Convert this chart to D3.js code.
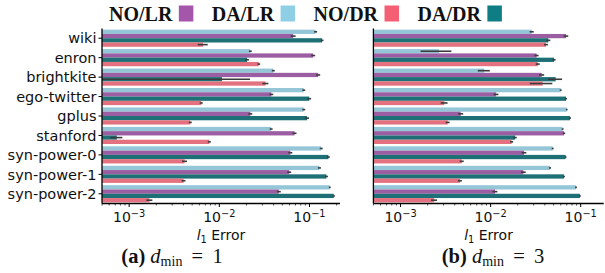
<!DOCTYPE html>
<html>
<head>
<meta charset="utf-8">
<style>
  body { margin: 0; background: #fff; }
  svg { display: block; }
  .ylab { font-family: 'DejaVu Sans', sans-serif; font-size: 14.5px; fill: #111; }
  .xtick { font-family: 'DejaVu Sans', sans-serif; font-size: 14px; fill: #111; }
  .xlabel { font-family: 'DejaVu Sans', sans-serif; font-size: 14px; fill: #111; }
  .legend text { font-family: 'Liberation Serif', 'Times New Roman', serif; font-size: 20px; font-weight: bold; fill: #111; }
  .caption { font-family: 'Liberation Serif', 'Times New Roman', serif; font-size: 20.5px; fill: #111; }
</style>
</head>
<body>
<svg width="605" height="273"></svg>
<script src="https://cdn.jsdelivr.net/npm/d3@7"></script>
<script>
// datasets, top to bottom
const datasets = ["wiki", "enron", "brightkite", "ego-twitter", "gplus", "stanford", "syn-power-0", "syn-power-1", "syn-power-2"];
// order of bars inside a group, top to bottom
const barOrder = ["DA/LR", "NO/LR", "DA/DR", "NO/DR"];
const legendOrder = ["NO/LR", "DA/LR", "NO/DR", "DA/DR"];

// (a) d_min = 1  -- mean l1 error
const a_DALR = [0.117, 0.0221, 0.0397, 0.0864, 0.0864, 0.0376, 0.135, 0.129, 0.168];
const a_NOLR = [0.066, 0.110, 0.125, 0.0378, 0.0221, 0.0683, 0.0614, 0.0596, 0.0457];
const a_DADR = [0.138, 0.0203, 0.0107, 0.0993, 0.0939, 0.00073, 0.162, 0.154, 0.186];
const a_NODR = [0.0066, 0.0274, 0.0325, 0.0063, 0.00477, 0.00775, 0.00412, 0.00402, 0.00168];
// (a) confidence half-widths
const a_DALR_err = [0.0045, 0.0008, 0.0015, 0.0033, 0.0033, 0.0014, 0.005, 0.005, 0.004];
const a_NOLR_err = [0.0042, 0.0056, 0.0064, 0.0019, 0.0011, 0.0035, 0.0031, 0.003, 0.0023];
const a_DADR_err = [0.005, 0.001, 0.0112, 0.005, 0.005, 0.00011, 0.006, 0.006, 0.005];
const a_NODR_err = [0.00084, 0.001, 0.0025, 0.00024, 0.00018, 0.0003, 0.00026, 0.0002, 0.00013];

// (b) d_min = 3
const b_DALR = [0.0286, 0.00267, 0.0085, 0.060, 0.070, 0.063, 0.0489, 0.0456, 0.0887];
const b_NOLR = [0.0687, 0.0324, 0.0369, 0.0115, 0.00466, 0.0653, 0.0235, 0.0231, 0.0112];
const b_DADR = [0.0437, 0.0506, 0.0527, 0.0687, 0.076, 0.0187, 0.068, 0.0653, 0.098];
const b_NODR = [0.0412, 0.0334, 0.0378, 0.00306, 0.00334, 0.0171, 0.00478, 0.00457, 0.00236];
const b_DALR_err = [0.0015, 0.001, 0.0013, 0.0015, 0.0015, 0.0015, 0.0012, 0.0012, 0.002];
const b_NOLR_err = [0.004, 0.0017, 0.0024, 0.0007, 0.0003, 0.002, 0.0014, 0.0014, 0.0007];
const b_DADR_err = [0.0023, 0.002, 0.0094, 0.0017, 0.002, 0.0008, 0.0015, 0.0015, 0.002];
const b_NODR_err = [0.0021, 0.0017, 0.0106, 0.00027, 0.00017, 0.0007, 0.00025, 0.00023, 0.00018];

const xDomainA = [5.0e-4, 0.218];
const xDomainB = [5.0e-4, 0.18];

const barColor = { "DA/LR": "#94c6d7", "NO/LR": "#9c5ea2", "DA/DR": "#1d7075", "NO/DR": "#e4717f" };
const legendColor = { "NO/LR": "#a457aa", "DA/LR": "#8ecfe5", "NO/DR": "#f45f73", "DA/DR": "#0e7d84" };

const svg = d3.select("svg");

function buildRows(vals, errs) {
  return datasets.map((ds, i) => ({
    ds,
    bars: barOrder.map((m, j) => ({ m, v: vals[j][i], e: errs[j][i] }))
  }));
}

const panels = [
  { rows: buildRows([a_DALR, a_NOLR, a_DADR, a_NODR], [a_DALR_err, a_NOLR_err, a_DADR_err, a_NODR_err]),
    domain: xDomainA, left: 102, right: 340, yLabels: true, capX: 172, capLetter: "(a)", capVal: "1" },
  { rows: buildRows([b_DALR, b_NOLR, b_DADR, b_NODR], [b_DALR_err, b_NOLR_err, b_DADR_err, b_NODR_err]),
    domain: xDomainB, left: 373.4, right: 603.7, yLabels: false, capX: 493, capLetter: "(b)", capVal: "3" }
];

const plotTop = 28.5, plotBottom = 203.5;

const y = d3.scaleBand().domain(datasets).range([plotTop, plotBottom]).paddingInner(0.12).paddingOuter(0.06);
const yIn = d3.scaleBand().domain(barOrder).range([0, y.bandwidth()]);

panels.forEach(p => {
  const x = d3.scaleLog().domain(p.domain).range([p.left, p.right]);
  const g = svg.append("g");

  const grp = g.selectAll("g.row").data(p.rows).join("g")
    .attr("class", "row")
    .attr("transform", d => `translate(0,${y(d.ds)})`);

  grp.selectAll("rect").data(d => d.bars).join("rect")
    .attr("x", x(p.domain[0]))
    .attr("y", d => yIn(d.m))
    .attr("height", yIn.bandwidth())
    .attr("width", d => x(d.v) - x(p.domain[0]))
    .attr("fill", d => barColor[d.m]);

  grp.selectAll("line.err").data(d => d.bars).join("line")
    .attr("class", "err")
    .attr("x1", d => x(Math.max(d.v - d.e, p.domain[0])))
    .attr("x2", d => x(d.v + d.e))
    .attr("y1", d => yIn(d.m) + yIn.bandwidth() / 2)
    .attr("y2", d => yIn(d.m) + yIn.bandwidth() / 2)
    .attr("stroke", "#3c3c3c")
    .attr("stroke-width", 1.6);

  // spines
  g.append("line").attr("x1", p.left).attr("x2", p.left).attr("y1", plotTop).attr("y2", plotBottom)
    .attr("stroke", "#000").attr("stroke-width", 1.3);
  g.append("line").attr("x1", p.left).attr("x2", p.right).attr("y1", plotBottom).attr("y2", plotBottom)
    .attr("stroke", "#000").attr("stroke-width", 1.3);

  // y ticks + labels
  if (p.yLabels) {
    datasets.forEach(ds => {
      const cy = y(ds) + y.bandwidth() / 2;
      g.append("line").attr("x1", p.left - 3.5).attr("x2", p.left).attr("y1", cy).attr("y2", cy)
        .attr("stroke", "#000").attr("stroke-width", 1);
      g.append("text").attr("class", "ylab").attr("x", p.left - 5.5).attr("y", cy)
        .attr("dy", "0.36em").attr("text-anchor", "end").text(ds);
    });
  }

  // x ticks (log, major + minor)
  x.ticks().forEach(t => {
    const lg = Math.log10(t);
    const major = Math.abs(lg - Math.round(lg)) < 1e-9;
    g.append("line").attr("x1", x(t)).attr("x2", x(t)).attr("y1", plotBottom).attr("y2", plotBottom + (major ? 3.5 : 2))
      .attr("stroke", "#000").attr("stroke-width", major ? 1 : 0.7);
    if (major) {
      const tx = g.append("text").attr("class", "xtick").attr("x", x(t)).attr("y", 222).attr("text-anchor", "middle");
      tx.append("tspan").text("10");
      tx.append("tspan").attr("font-size", "9.8px").attr("dy", -5.5).text("\u2212" + Math.abs(Math.round(lg)));
    }
  });

  // x label
  const xl = g.append("text").attr("class", "xlabel").attr("x", (p.left + p.right) / 2).attr("y", 240).attr("text-anchor", "middle");
  xl.append("tspan").attr("font-style", "italic").text("l");
  xl.append("tspan").attr("font-size", "9.8px").attr("dy", 2.5).text("1");
  xl.append("tspan").attr("dy", -2.5).text(" Error");

  // caption
  const cap = svg.append("text").attr("class", "caption").attr("x", p.capX).attr("y", 263).attr("text-anchor", "middle");
  cap.append("tspan").attr("font-weight", "bold").text(p.capLetter + " ");
  cap.append("tspan").attr("font-style", "italic").text("d");
  cap.append("tspan").attr("font-size", "14px").attr("dy", 3).text("min");
  cap.append("tspan").attr("dy", -3).text("\u2009 = \u2009" + p.capVal);
});

// legend
const leg = svg.append("g").attr("class", "legend");
let lx = 109;
legendOrder.forEach(m => {
  const t = leg.append("text").attr("x", lx).attr("y", 21).text(m);
  const w = t.node().getComputedTextLength();
  leg.append("rect").attr("x", lx + w + 6.5).attr("y", 5.5).attr("width", 14.5).attr("height", 16)
    .attr("fill", legendColor[m]);
  lx += w + 6.5 + 14.5 + 18.5;
});
</script>
</body>
</html>
